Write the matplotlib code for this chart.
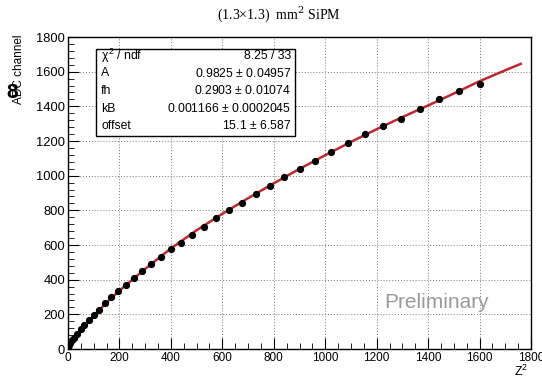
import matplotlib.pyplot as plt
from matplotlib.ticker import MultipleLocator

# measured points (Z^2, ADC channel)
z2 = [1, 4, 9, 16, 25, 36, 49, 64, 81, 100, 121, 144, 169, 196, 225, 256,
      289, 324, 361, 400, 441, 484, 529, 576, 625, 676, 729, 784, 841, 900,
      961, 1024, 1089, 1156, 1225, 1296, 1369, 1444, 1521, 1600]
adc = [7, 22, 36, 50, 64, 87, 114, 138, 167, 198, 225, 264, 302, 332, 367, 408,
       450, 489, 533, 578, 613, 660, 706, 758, 802, 844, 894, 942, 991, 1039,
       1086, 1139, 1187, 1241, 1287, 1327, 1385, 1443, 1490, 1529]

# fit curve
fit_x = [0, 25, 50, 100, 150, 200, 300, 400, 500, 600, 700, 800, 900, 1000,
         1100, 1200, 1300, 1400, 1500, 1600, 1700, 1760]
fit_y = [15, 58, 105, 192, 268, 337, 462, 580, 685, 780, 870, 956, 1039, 1118,
         1195, 1268, 1338, 1405, 1474, 1545, 1608, 1645]

stats_names = ['$\\chi^2$ / ndf', 'A', 'fh', 'kB', 'offset']
stats_vals = ['8.25 / 33', '0.9825 $\\pm$ 0.04957', '0.2903 $\\pm$ 0.01074',
              '0.001166 $\\pm$ 0.0002045', '15.1 $\\pm$ 6.587']


def main():
    plt.rcParams['font.family'] = ['Liberation Sans', 'DejaVu Sans']
    plt.rcParams['mathtext.fontset'] = 'custom'
    plt.rcParams['mathtext.rm'] = 'Liberation Sans'
    plt.rcParams['mathtext.it'] = 'Liberation Sans'

    fig = plt.figure(figsize=(5.42, 3.78), dpi=100)
    ax = fig.add_axes([68 / 542, 1 - 349 / 378, 463 / 542, 312 / 378])

    ax.plot(fit_x, fit_y, color='#c0282d', lw=1.8, zorder=2)
    ax.plot(z2, adc, 'o', color='black', ms=4.2, zorder=3)

    ax.set_xlim(0, 1800)
    ax.set_ylim(0, 1800)
    ax.xaxis.set_major_locator(MultipleLocator(200))
    ax.xaxis.set_minor_locator(MultipleLocator(50))
    ax.yaxis.set_major_locator(MultipleLocator(200))
    ax.yaxis.set_minor_locator(MultipleLocator(40))
    ax.tick_params(which='both', direction='in', top=False, right=False,
                   labelsize=9.3, pad=2)
    ax.tick_params(axis='x', labelsize=8.5)
    ax.tick_params(which='major', length=8)
    ax.tick_params(which='minor', length=4)
    ax.grid(True, which='major', linestyle=(0, (1, 2)), color='#777777', lw=0.7)
    for s in ax.spines.values():
        s.set_linewidth(1.0)

    fig.text(279 / 542, 1 - 14 / 378, '(1.3\u00d71.3)  mm$^{2}$ SiPM',
             family='Liberation Serif', fontsize=10, ha='center', va='center',
             math_fontfamily='dejavuserif')
    fig.text(19 / 542, 1 - 34 / 378, 'ADC channel', rotation=90, fontsize=8.5,
             ha='center', va='top')
    fig.text(12 / 542, 1 - 92 / 378, '8', fontsize=15, fontweight='bold',
             ha='center', va='center')
    fig.text(521 / 542, 1 - 371 / 378, 'Z$^{2}$', fontsize=9,
             ha='center', va='center')

    ax.text(489 / 542, 1 - 308 / 378, 'Preliminary', transform=fig.transFigure,
            fontsize=15, color='#9a9a9a', ha='right', va='baseline')

    # stats box
    bx0, by0, bx1, by1 = 96, 49, 295, 136
    box = plt.Rectangle((bx0 / 542, 1 - by1 / 378), (bx1 - bx0) / 542,
                        (by1 - by0) / 378, transform=fig.transFigure,
                        facecolor='white', edgecolor='black', lw=1.0, zorder=5)
    fig.patches.append(box)
    rows = [56, 73.5, 91, 108.5, 126]
    for name, val, yy in zip(stats_names, stats_vals, rows):
        fig.text(101 / 542, 1 - yy / 378, name, fontsize=8.8, ha='left',
                 va='center', zorder=6)
        fig.text(291 / 542, 1 - yy / 378, val, fontsize=8.8, ha='right',
                 va='center', zorder=6)

    fig.savefig('out.png', dpi=100)


if __name__ == "__main__":
    main()
